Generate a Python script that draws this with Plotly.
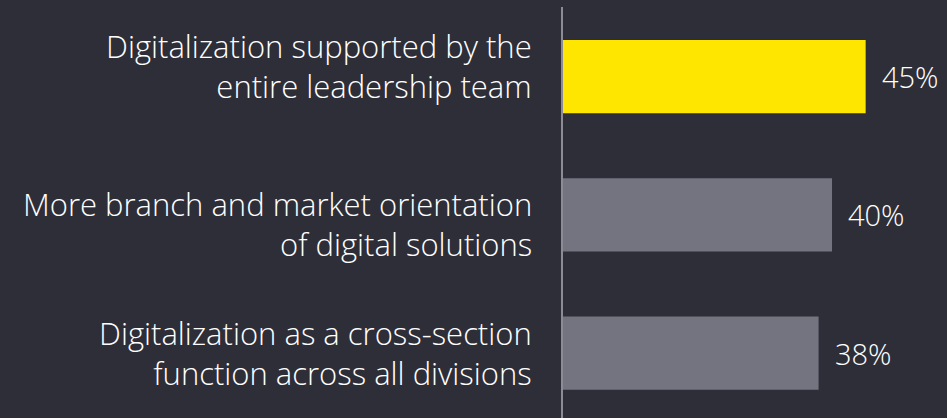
import plotly.graph_objects as go

categories = [
    "Digitalization supported by the<br>entire leadership team",
    "More branch and market orientation<br>of digital solutions",
    "Digitalization as a cross-section<br>function across all divisions",
]
values = [45, 40, 38]
labels = ["45%", "40%", "38%"]
colors = ["#ffe600", "#747480", "#747480"]

# small vertical nudges of the category labels, as in the original
label_shift = [11, -9, 0]

bg = "#2e2e38"
font_family = "Open Sans, Arial, sans-serif"

fig = go.Figure()
fig.add_trace(go.Bar(
    orientation="h",
    y=list(range(len(categories))),
    x=values,
    width=0.53,
    marker=dict(color=colors, line=dict(width=0)),
    hoverinfo="skip",
))

for i, (v, t) in enumerate(zip(values, labels)):
    fig.add_annotation(x=v, y=i, text=t, showarrow=False,
                       xanchor="left", xshift=14,
                       font=dict(size=29, color="#ffffff", family=font_family, weight=300))

for i, (c, s) in enumerate(zip(categories, label_shift)):
    fig.add_annotation(xref="paper", x=0, y=i, text=c, showarrow=False,
                       xanchor="right", align="right", xshift=-29, yshift=s,
                       font=dict(size=31, color="#ffffff", family=font_family, weight=300))

fig.update_layout(
    width=947, height=418,
    paper_bgcolor=bg, plot_bgcolor=bg,
    margin=dict(l=563, r=4, t=7, b=0),
    showlegend=False,
    font=dict(family=font_family, color="#ffffff"),
    xaxis=dict(range=[0, 56.5], visible=False, fixedrange=True),
    yaxis=dict(
        range=[2.47, -0.503],
        showticklabels=False, ticks="",
        showgrid=False, zeroline=False,
        showline=True, linecolor="#8c8c96", linewidth=1.5,
    ),
)

# drop the default page margin so the figure sits at (0, 0)
fig.write_html("out.html", config={"displayModeBar": False},
               post_script="document.body.style.margin='0';")
